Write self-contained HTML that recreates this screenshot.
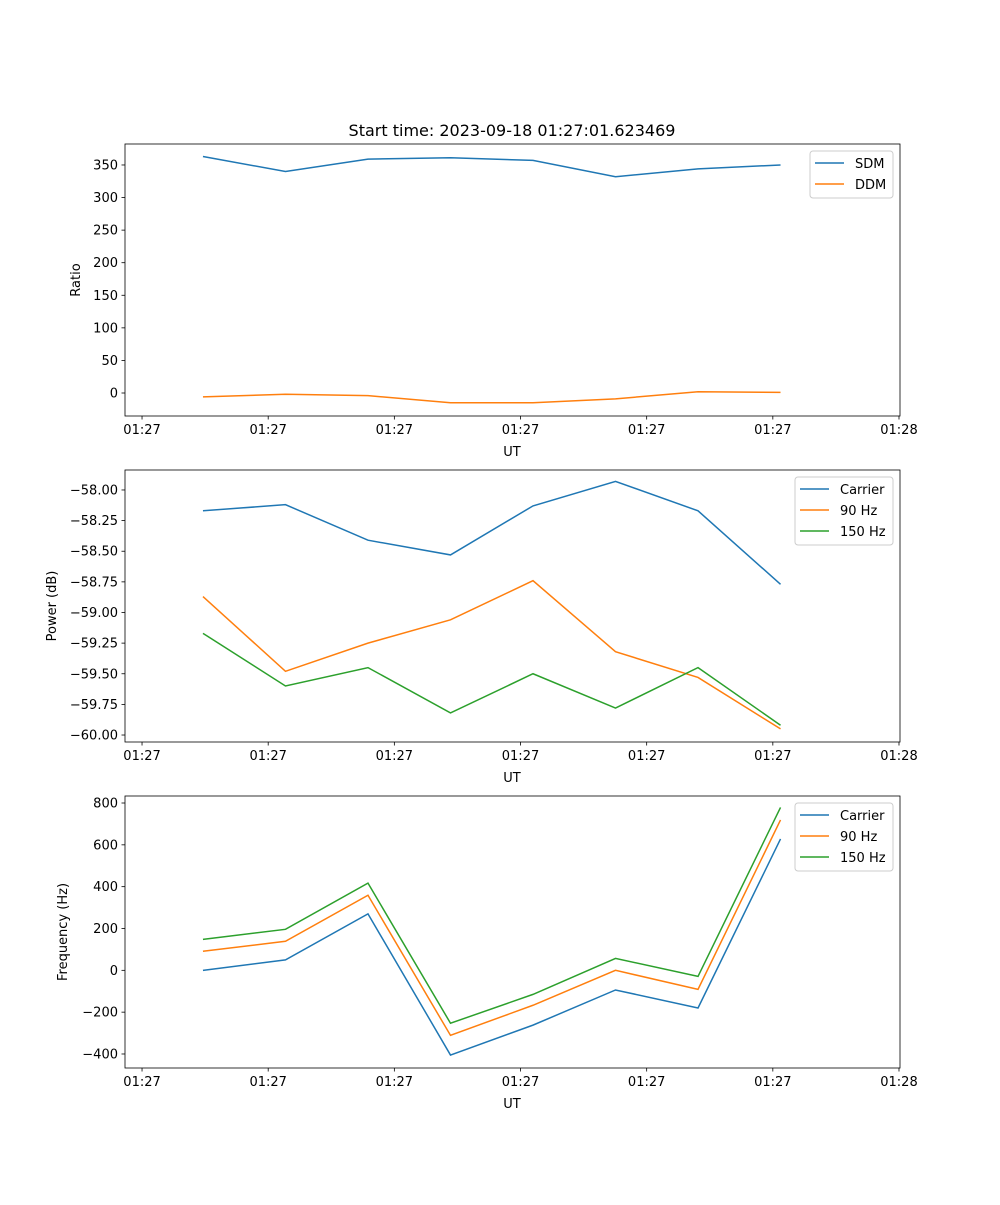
<!DOCTYPE html>
<html><head><meta charset="utf-8"><style>
body{margin:0;background:#fff}
svg text{font-family:"DejaVu Sans","Liberation Sans",sans-serif;fill:#000}
</style></head><body>
<svg id="fig" width="1000" height="1200" xmlns="http://www.w3.org/2000/svg">
<text x="512" y="136" font-size="16" text-anchor="middle">Start time: 2023-09-18 01:27:01.623469</text>
</svg>
<script>
const times=[4.83,11.37,17.91,24.45,30.99,37.53,44.07,50.61];
const xTicks=[0,10,20,30,40,50,60];
const xTickLabels=["01:27","01:27","01:27","01:27","01:27","01:27","01:28"];
const sdm=[363,340,359,361,357,332,344,350];
const ddm=[-6,-2,-4,-15,-15,-9,2,1];
const pCarrier=[-58.17,-58.12,-58.41,-58.53,-58.13,-57.93,-58.17,-58.77];
const p90=[-58.87,-59.48,-59.25,-59.06,-58.74,-59.32,-59.53,-59.95];
const p150=[-59.17,-59.60,-59.45,-59.82,-59.50,-59.78,-59.45,-59.92];
const fCarrier=[0,50,270,-405,-262,-94,-180,628];
const f90=[91,139,359,-311,-167,0,-91,719];
const f150=[148,196,417,-253,-115,57,-29,779];
const ratioTicks=[0,50,100,150,200,250,300,350];
const powerTicks=[-60,-59.75,-59.5,-59.25,-59,-58.75,-58.5,-58.25,-58];
const freqTicks=[-400,-200,0,200,400,600,800];

const NS="http://www.w3.org/2000/svg";
const svg=document.getElementById('fig');
function mk(tag,attrs,parent){const e=document.createElementNS(NS,tag);for(const k in attrs)e.setAttribute(k,attrs[k]);(parent||svg).appendChild(e);return e;}
const L=125,R=900,xmin=-1.35,xmax=60.08;
const xs=v=>L+(v-xmin)/(xmax-xmin)*(R-L);
function panel(name,top,bottom,ymin,ymax,yTicks,fmt,ylabel,series,legend){
  const g=mk('g',{});
  
  
  const ys=v=>bottom-(v-ymin)/(ymax-ymin)*(bottom-top);
  series.forEach(s=>{
    const p=mk('polyline',{points:s.d.map((v,i)=>xs(times[i])+','+ys(v)).join(' '),fill:'none',stroke:s.c,'stroke-width':1.5},g);
    
    
  });
  const fr=mk('rect',{x:L,y:top,width:R-L,height:bottom-top,fill:'none',stroke:'#000','stroke-width':0.8},g);
  
  
  xTicks.forEach((t,i)=>{
    mk('line',{x1:xs(t),x2:xs(t),y1:bottom,y2:bottom+3.5,stroke:'#000','stroke-width':0.8},g);
    const tx=mk('text',{x:xs(t),y:bottom+18,'font-size':13,'text-anchor':'middle'},g);
    tx.textContent=xTickLabels[i];
    
    
  });
  const xl=mk('text',{x:512,y:bottom+40,'font-size':13,'text-anchor':'middle'},g);
  xl.textContent='UT';
  
  
  yTicks.forEach(t=>{
    mk('line',{x1:L-3.5,x2:L,y1:ys(t),y2:ys(t),stroke:'#000','stroke-width':0.8},g);
    const tx=mk('text',{x:L-7,y:ys(t)+4.5,'font-size':13,'text-anchor':'end'},g);
    tx.textContent=fmt(t);
    
    
  });
  const yl=mk('text',{x:0,y:0,'font-size':13,'text-anchor':'middle',transform:`translate(${legend.yx},${(top+bottom)/2}) rotate(-90)`},g);
  yl.textContent=ylabel;
  
  
  const lg=mk('g',{},g);
  
  
  mk('rect',{x:legend.x,y:top+7,width:893-legend.x,height:series.length*21+5,rx:3,fill:'#fff','fill-opacity':0.8,stroke:'#ccc'},lg);
  series.forEach((s,i)=>{
    const yy=top+19+i*21;
    mk('line',{x1:legend.x+5,x2:legend.x+34,y1:yy,y2:yy,stroke:s.c,'stroke-width':1.5},lg);
    const tx=mk('text',{x:legend.x+45,y:yy+5,'font-size':13},lg);
    tx.textContent=s.k;
    
    
  });
}
const B='#1f77b4',O='#ff7f0e',G='#2ca02c';
panel('ratio',144,416,-35.3,382.2,ratioTicks,v=>String(v),'Ratio',[{k:'SDM',d:sdm,c:B},{k:'DDM',d:ddm,c:O}],{x:810,yx:80});
panel('power',470,742,-60.057,-57.837,powerTicks,v=>'\u2212'+Math.abs(v).toFixed(2),'Power (dB)',[{k:'Carrier',d:pCarrier,c:B},{k:'90 Hz',d:p90,c:O},{k:'150 Hz',d:p150,c:G}],{x:795,yx:56});
panel('frequency',796,1068,-467,833.5,freqTicks,v=>(v<0?'\u2212':'')+Math.abs(v),'Frequency (Hz)',[{k:'Carrier',d:fCarrier,c:B},{k:'90 Hz',d:f90,c:O},{k:'150 Hz',d:f150,c:G}],{x:795,yx:67});
</script>
</body></html>
